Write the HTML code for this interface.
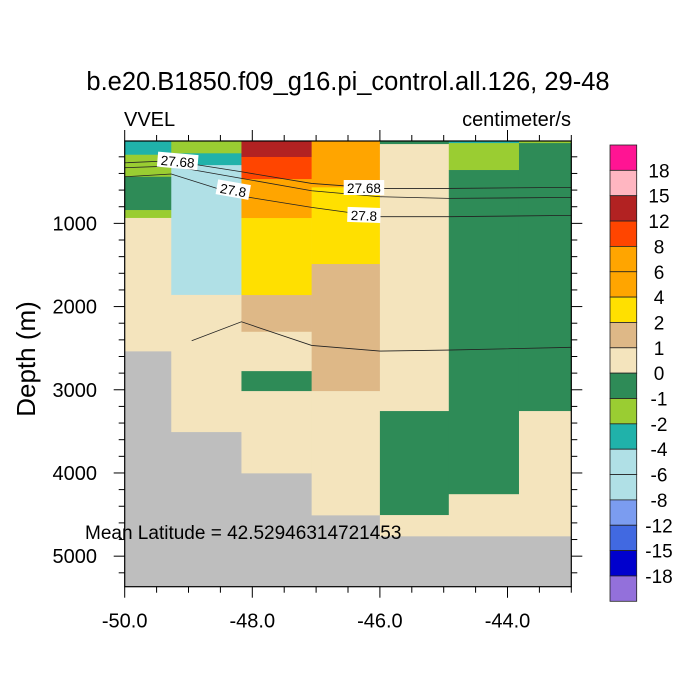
<!DOCTYPE html>
<html><head><meta charset="utf-8"><style>
html,body{margin:0;padding:0;background:#fff;}
svg{display:block;font-family:"Liberation Sans",sans-serif;}
</style></head><body>
<svg id="chart" width="700" height="700" viewBox="0 0 700 700" xmlns="http://www.w3.org/2000/svg">
<text x="348" y="90" font-size="25.5" text-anchor="middle">b.e20.B1850.f09_g16.pi_control.all.126, 29-48</text>
<text x="124" y="126" font-size="20">VVEL</text>
<text x="571" y="126" font-size="20" text-anchor="end">centimeter/s</text>
<text transform="translate(35,359) rotate(-90)" font-size="26" text-anchor="middle">Depth (m)</text>
<g id="plot"></g>
<g id="legend"></g>
</svg>
<script>
const levels = [-18,-15,-12,-8,-6,-4,-2,-1,0,1,2,4,6,8,12,15,18];
const levelColors = ["#9370DB","#0000CD","#4169E1","#7B9CF0","#B0E0E6","#B0E0E6","#20B2AA","#9ACD32","#2E8B57","#F4E4BD","#DEB887","#FFE000","#FFA500","#FFA500","#FF4500","#B22222","#FFB6C1","#FF1493"];
const lonEdges = [-50,-49.27,-48.17,-47.07,-46.0,-44.92,-43.82,-43.0];
const col0 = [[10,175,-3],[175,440,-1.5],[440,840,-0.5],[840,935,-1.5],[935,2535,0.5]];
const col1 = [[10,158,-1.5],[158,300,-3],[300,1860,-5],[1860,3505,0.5]];
const col2 = [[10,202,13],[202,468,9],[468,936,5],[936,1862,3],[1862,2303,1.5],[2303,2776,0.5],[2776,3016,-0.5],[3016,4001,0.5]];
const col3 = [[10,567,5],[567,1489,3],[1489,3016,1.5],[3016,4506,0.5]];
const col4 = [[10,47,-0.5],[47,3256,0.5],[3256,4506,-0.5],[4506,4758,0.5]];
const col5 = [[10,35,-3],[35,359,-1.5],[359,4255,-0.5],[4255,4758,0.5]];
const col6 = [[10,35,-1.5],[35,3256,-0.5],[3256,4758,0.5]];
const columns = [col0,col1,col2,col3,col4,col5,col6];
const contourLons = [-50,-49.27,-48.17,-47.07,-46.0,-44.92,-43.0];
const contourA = [272,247,380,520,580,580,567];
const contourB = [331,311,459,608,680,700,688];
const contourC = [440,407,672,808,920,920,904];
const contourDLons = [-48.95,-48.17,-47.07,-46.0,-44.92,-43.0];
const contourD = [2411,2183,2467,2535,2523,2490];
const xTicks = [-50,-48,-46,-44];
const xTickLabels = ["-50.0","-48.0","-46.0","-44.0"];
const yTicks = [1000,2000,3000,4000,5000];
const legendLabels = ["18","15","12","8","6","4","2","1","0","-1","-2","-4","-6","-8","-12","-15","-18"];

const NS="http://www.w3.org/2000/svg";
const X0=124.7, XS=63.8, Y0=141, YS=0.0832, DEPMIN=10, DEPMAX=5367, LONMIN=-50, LONMAX=-43;
const x = lon => X0+(lon-LONMIN)*XS;
const y = d => Y0+(d-DEPMIN)*YS;
function mk(tag, attrs, parent){const e=document.createElementNS(NS,tag);for(const k in attrs)e.setAttribute(k,attrs[k]);parent.appendChild(e);return e;}
function colorFor(v){let i=0;while(i<levels.length && v>=levels[i])i++;return levelColors[i];}
const plot=document.getElementById('plot');
const px0=x(LONMIN), px1=x(LONMAX), py0=y(DEPMIN), py1=y(DEPMAX);
const bg=mk('rect',{x:px0,y:py0,width:px1-px0,height:py1-py0,fill:"#BEBEBE"},plot);


columns.forEach((col,ci)=>{
  col.forEach((c,k)=>{
    const r=mk('rect',{x:x(lonEdges[ci]),y:y(c[0]),width:x(lonEdges[ci+1])-x(lonEdges[ci])+0.3,height:y(c[1])-y(c[0])+0.3,fill:colorFor(c[2])},plot);
    
    
  });
});
function line(lons,deps,name){
  const p=mk('polyline',{points:lons.map((l,i)=>x(l)+','+y(deps[i])).join(' '),fill:'none',stroke:'#222','stroke-width':0.8},plot);
  
  
}
line(contourLons,contourA,'contour-27-68-upper');
line(contourLons,contourB,'contour-middle');
line(contourLons,contourC,'contour-27-8');
line(contourDLons,contourD,'contour-deep');
function clabel(txt,lon,dep,rot,name){
  const g=mk('g',{transform:`translate(${x(lon)},${y(dep)}) rotate(${rot})`},plot);
  
  
  const w=txt.length*7.3+4;
  mk('rect',{x:-w/2,y:-8,width:w,height:15,fill:'#fff'},g);
  const t=mk('text',{x:0,y:5,'font-size':13.5,'text-anchor':'middle'},g);
  t.textContent=txt;
}
clabel('27.68',-49.17,255,5,'contour-label-27-68-a');
clabel('27.8',-48.3,600,10,'contour-label-27-8-a');
clabel('27.68',-46.25,575,0,'contour-label-27-68-b');
clabel('27.8',-46.25,905,2,'contour-label-27-8-b');
const ml=mk('text',{x:85,y:539,'font-size':19},plot);


ml.textContent='Mean Latitude = 42.52946314721453';
const fr=mk('rect',{x:px0,y:py0,width:px1-px0,height:py1-py0,fill:'none',stroke:'#000','stroke-width':1.2},plot);


const tk=mk('g',{stroke:'#000','stroke-width':1},plot);


for(let l=LONMIN;l<=LONMAX+1e-6;l+=0.5){
  const major=Math.abs(l-Math.round(l))<1e-6 && Math.round(l)%2===0;
  const len=major?11:6;
  mk('line',{x1:x(l),x2:x(l),y1:py1,y2:py1+len},tk);
  mk('line',{x1:x(l),x2:x(l),y1:py0,y2:py0-len},tk);
}
for(let d=200;d<=DEPMAX;d+=200){
  const major=d%1000===0;const len=major?11:6;
  mk('line',{x1:px0,x2:px0-len,y1:y(d),y2:y(d)},tk);
  mk('line',{x1:px1,x2:px1+len,y1:y(d),y2:y(d)},tk);
}
xTicks.forEach((l,i)=>{
  const t=mk('text',{x:x(l),y:py1+41,'font-size':20,'text-anchor':'middle'},plot);
  
  
  t.textContent=xTickLabels[i];
});
yTicks.forEach(d=>{
  const t=mk('text',{x:97,y:y(d)+7,'font-size':20,'text-anchor':'end'},plot);
  
  
  t.textContent=String(d);
});
const lg=document.getElementById('legend');
const LX=610, LW=26.7, LT=145, LH=25.35, n=levelColors.length;
for(let i=0;i<n;i++){
  const r=mk('rect',{x:LX,y:LT+i*LH,width:LW,height:LH,fill:levelColors[n-1-i],stroke:'#222','stroke-width':0.8},lg);
  
  
}
legendLabels.forEach((s,i)=>{
  const t=mk('text',{x:659,y:LT+(i+1)*LH+7,'font-size':19,'text-anchor':'middle'},lg);
  
  
  t.textContent=s;
});
</script>
</body></html>
